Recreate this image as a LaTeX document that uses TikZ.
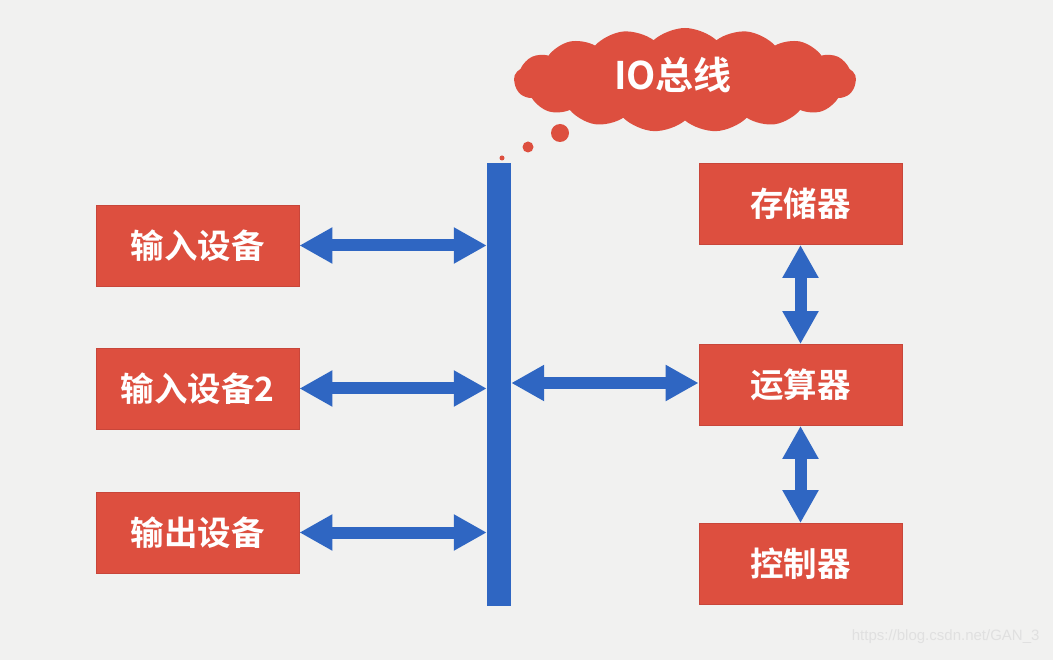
\documentclass[tikz,border=0pt]{standalone}
\usepackage{fontspec}
\newfontfamily\cjk{Noto Sans CJK SC Bold}
\setsansfont{Liberation Sans}
\usetikzlibrary{arrows.meta,shapes.symbols}
\definecolor{boxred}{HTML}{DD4F3F}
\definecolor{boxedge}{HTML}{C8463A}
\definecolor{busblue}{HTML}{2F66C2}
\definecolor{bg}{HTML}{F1F1F0}
\tikzset{
  unitbox/.style={rectangle, fill=boxred, draw=boxedge, line width=0.8pt,
    minimum width=203pt, minimum height=81pt, inner sep=0pt,
    text=white, font=\cjk\fontsize{33.5}{38}\selectfont},
  busarrow/.style={busblue, line width=12pt,
    {Triangle[width=34pt,length=33pt]}-{Triangle[width=34pt,length=33pt]}},
  bubble/.style={circle, fill=boxred, inner sep=0pt}
}
\begin{document}
\begin{tikzpicture}[x=1pt,y=-1pt]
\fill[bg] (0,0) rectangle (1053,660);
\useasboundingbox (0,0) rectangle (1053,660);

% bus bar
\node[rectangle, fill=busblue, minimum width=24pt, minimum height=443pt, inner sep=0pt] (bus) at (499,384.5) {};

% left boxes
\node[unitbox] (in1) at (197.5,245.5) {输入设备};
\node[unitbox] (in2) at (197.5,388.5) {输入设备2};
\node[unitbox] (out) at (197.5,532.5) {输出设备};

% right boxes
\node[unitbox] (mem) at (800.5,204) {存储器};
\node[unitbox] (alu) at (800.5,385) {运算器};
\node[unitbox] (ctl) at (800.5,564) {控制器};

% arrows
\draw[busarrow] (in1.east) -- (in1.east -| bus.west);
\draw[busarrow] (in2.east) -- (in2.east -| bus.west);
\draw[busarrow] (out.east) -- (out.east -| bus.west);
\coordinate (aluy) at (bus.east |- 0,383);
\draw[busarrow] (aluy) -- (alu.west |- aluy);
\draw[busarrow] (mem.south) -- (alu.north);
\draw[busarrow] (alu.south) -- (ctl.north);

% cloud
\node[cloud, cloud puffs=17, cloud puff arc=85, aspect=3.3, fill=boxred,
  minimum width=342pt, minimum height=104pt, inner sep=0pt] (cloud) at (685,80) {};
\node[text=white, font=\cjk\fontsize{38}{44}\selectfont] (ctext) at (673,75) {IO总线};
\node[bubble, minimum size=18pt] (b1) at (560,133) {};
\node[bubble, minimum size=11pt] (b2) at (528,147) {};
\node[bubble, minimum size=5pt] (b3) at (502,158) {};

% watermark
\node[text=black!12, font=\sffamily\fontsize{15}{18}\selectfont, anchor=east] (wm) at (1043,637) {https://blog.csdn.net/GAN\_3};
\end{tikzpicture}
\end{document}
